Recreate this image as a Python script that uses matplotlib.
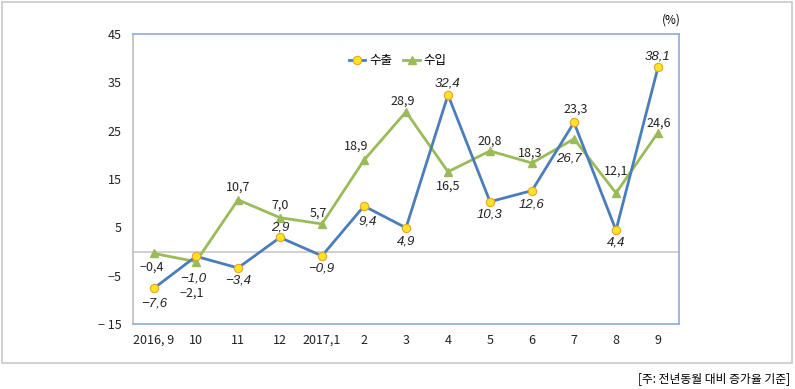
import matplotlib.pyplot as plt
from matplotlib.patches import Rectangle

plt.rcParams['font.family'] = ['Noto Sans CJK KR', 'DejaVu Sans']

months = ['2016, 9', '10', '11', '12', '2017,1', '2', '3', '4', '5', '6', '7', '8', '9']
export = [-7.6, -1.0, -3.4, 2.9, -0.9, 9.4, 4.9, 32.4, 10.3, 12.6, 26.7, 4.4, 38.1]
imports = [-0.4, -2.1, 10.7, 7.0, 5.7, 18.9, 28.9, 16.5, 20.8, 18.3, 23.3, 12.1, 24.6]
export_labels = ['-7.6', '-1.0', '-3.4', '2.9', '-0.9', '9.4', '4.9', '32.4', '10.3', '12.6', '26.7', '4.4', '38.1']
import_labels = ['-0.4', '-2.1', '10.7', '7.0', '5.7', '18.9', '28.9', '16.5', '20.8', '18.3', '23.3', '12.1', '24.6']

# label offsets in pixels (dx, dy)
exp_off = [(0, -15), (-3, -22), (0, -13), (0, 10), (-1, -13), (4, -15), (0, -14),
           (0, 11), (0, -13), (0, -14), (-5, -36), (0, -12), (0, 11)]
imp_off = [(-2, -14), (-4, -31), (0, 13), (0, 13), (-4, 11), (-8, 14), (-3, 11),
           (0, -14), (0, 10), (-2, 10), (2, 30), (0, 22), (1, 9)]

blue = '#4A7EBB'
green = '#9BBB59'

fig = plt.figure(figsize=(7.95, 3.89), dpi=100)
fig.patches.append(Rectangle((2 / 795, 26 / 389), 790 / 795, 361 / 389,
                             transform=fig.transFigure, fill=False,
                             edgecolor='#C8C8C8', lw=1.2))
ax = fig.add_axes([133 / 795, 65 / 389, 546 / 795, 290 / 389])

x = list(range(len(months)))
ax.axhline(0, color='#C8C8C8', lw=1.2, zorder=1)
ax.plot(x, export, color=blue, lw=2, marker='o', ms=6,
        mfc='#FFE51F', mec='#F0A030', mew=0.8, label='수출', zorder=3)
ax.plot(x, imports, color=green, lw=2, marker='^', ms=6,
        mfc=green, mec=green, label='수입', zorder=2)

def fmt(s):
    return s.replace('-', '\u2212').replace('.', ',')

for i in x:
    ax.annotate(fmt(export_labels[i]), (i, export[i]), xytext=exp_off[i],
                textcoords='offset pixels', ha='center', va='center',
                fontsize=9.5, style='italic', family=['Liberation Sans', 'DejaVu Sans'],
                color='#222222')
    ax.annotate(fmt(import_labels[i]), (i, imports[i]), xytext=imp_off[i],
                textcoords='offset pixels', ha='center', va='center',
                fontsize=9, color='#222222')

ax.set_xlim(-0.5, 12.5)
ax.set_ylim(-15, 45)
ax.set_yticks([45, 35, 25, 15, 5, -5, -15])
ax.set_yticklabels(['45', '35', '25', '15', '5', '\u22125', '\u2212 15'])
ax.set_xticks(x)
ax.set_xticklabels(months)
ax.tick_params(length=0, labelsize=9, colors='#222222', pad=8)
ax.tick_params(axis='x', pad=7)

ax.spines['left'].set_color('#BFBFBF')
for s in ['top', 'right', 'bottom']:
    ax.spines[s].set_color('#8EA9DB')
for s in ax.spines.values():
    s.set_linewidth(1.2)

ax.legend(loc='upper center', bbox_to_anchor=(0.485, 0.97), ncol=2, frameon=False,
          fontsize=9, handlelength=1.3, handletextpad=0.3, columnspacing=0.9)

fig.text(671 / 795, 1 - 20 / 389, '(%)', ha='center', va='center', fontsize=8.5)
fig.text(790 / 795, 1 - 379 / 389, '[주: 전년동월 대비 증가율 기준]', ha='right',
         va='center', fontsize=8.5)

fig.savefig('out.png', dpi=100)
